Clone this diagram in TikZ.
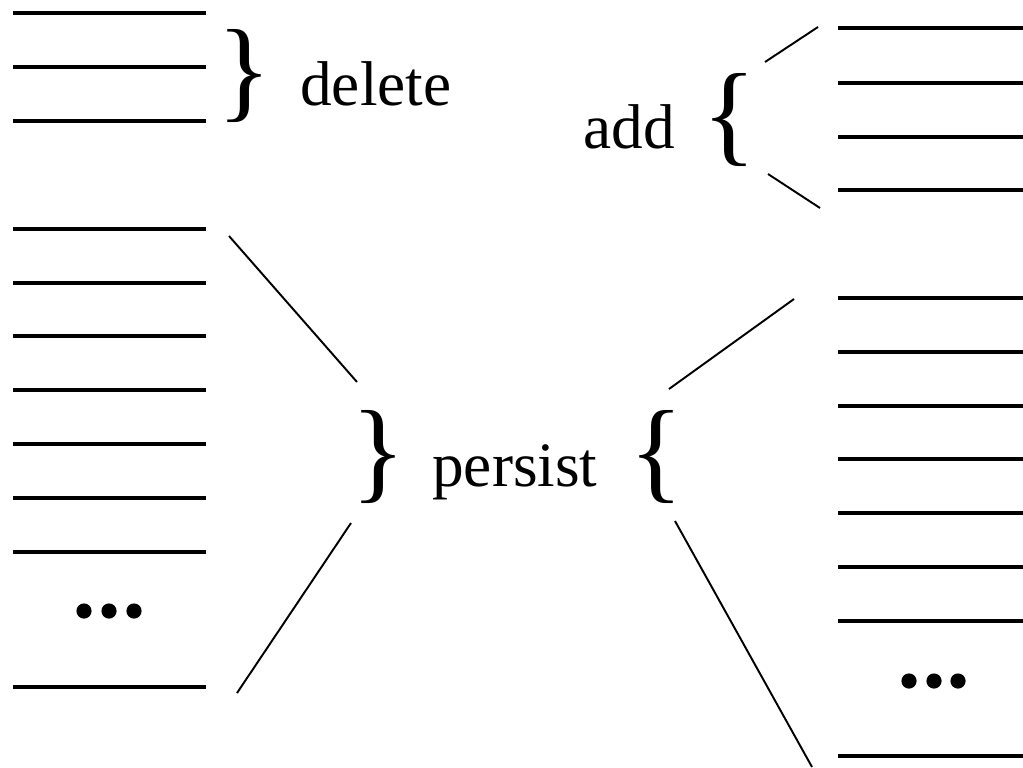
\documentclass[tikz,border=0pt]{standalone}
\usepackage{fontspec}
\setmainfont{Liberation Serif}
\usetikzlibrary{positioning}

\tikzset{
  bar/.style={line width=2.3pt},
  link/.style={line width=1.1pt},
  word/.style={font=\fontsize{36}{40}\selectfont, inner sep=0pt, anchor=base west},
  brace/.style={font=\fontsize{64}{70}\selectfont, inner sep=0pt},
}

\begin{document}
\begin{tikzpicture}[x=0.02cm, y=-0.02cm]
  \useasboundingbox (0,0) rectangle (1023,767);

  % old list (left)
  \foreach \y in {13,67,121,229,283,336,390,444,498,552,687}
    \draw[bar] (13,\y) -- (206,\y);
  \foreach \x in {84,109,134}
    \fill (\x,611) circle (0.152cm);

  % new list (right)
  \foreach \y in {28,83,137,190,298,352,406,459,513,567,621,756}
    \draw[bar] (838,\y) -- (1023,\y);
  \foreach \x in {909,934,958}
    \fill (\x,681) circle (0.152cm);

  % braces and labels
  \node[brace] (delbr) at (244,76) {\}};
  \node[word] (del) at (300,106) {delete};
  \node[brace] (addbr) at (729,120) {\{};
  \node[word] (add) at (583,148) {add};
  \node[brace] (perl) at (378,457) {\}};
  \node[word] (per) at (432,486) {persist};
  \node[brace] (perr) at (656,457) {\{};

  % ends of the fan lines
  \coordinate (oldtop) at (229,236);
  \coordinate (oldbot) at (237,693);
  \coordinate (pltop) at (357,382);
  \coordinate (plbot) at (351,523);
  \coordinate (prtop) at (669,389);
  \coordinate (prbot) at (675,521);
  \coordinate (newtop) at (794,299);
  \coordinate (newbot) at (812,767);
  \coordinate (atop) at (765,62);
  \coordinate (abot) at (768,174);
  \coordinate (addtop) at (818,27);
  \coordinate (addbot) at (820,208);

  \draw[link] (oldtop) -- (pltop);
  \draw[link] (plbot) -- (oldbot);
  \draw[link] (prtop) -- (newtop);
  \draw[link] (prbot) -- (newbot);
  \draw[link] (atop) -- (addtop);
  \draw[link] (abot) -- (addbot);
\end{tikzpicture}
\end{document}
